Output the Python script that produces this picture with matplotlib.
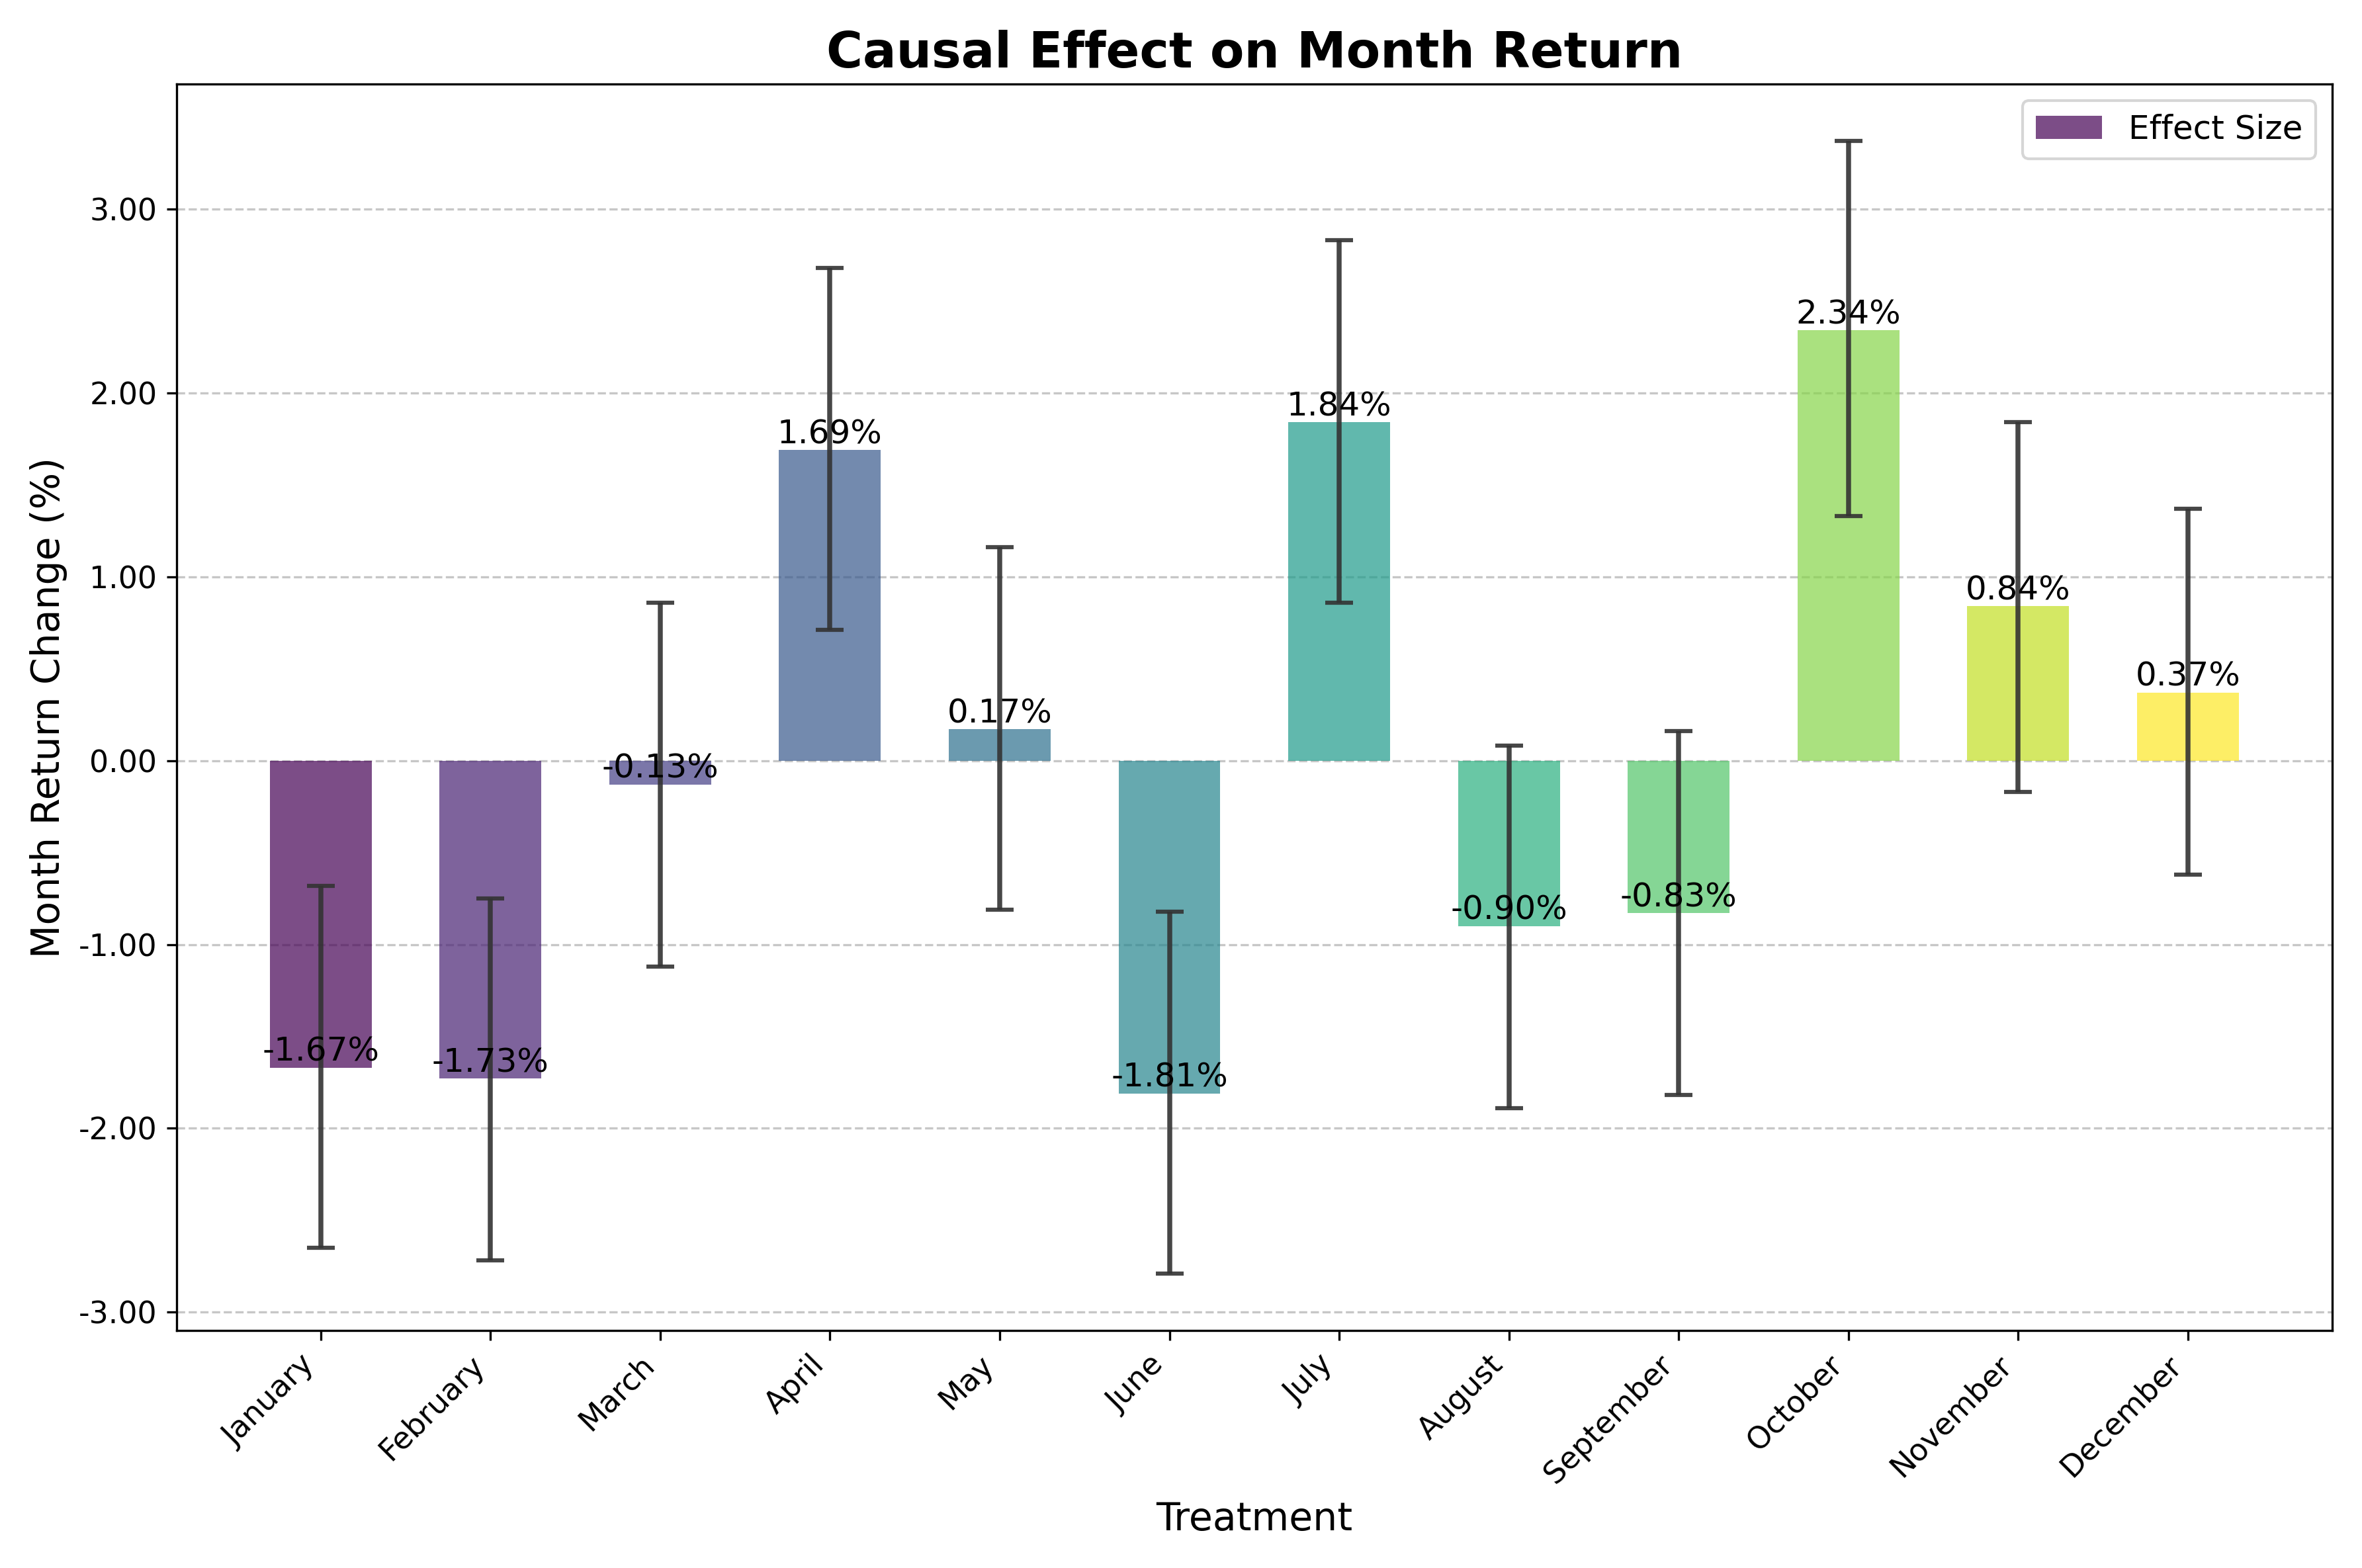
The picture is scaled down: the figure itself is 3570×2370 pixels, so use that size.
import matplotlib
matplotlib.use("Agg")
import matplotlib.pyplot as plt
import numpy as np
from matplotlib.ticker import FormatStrFormatter

months = ["January","February","March","April","May","June","July","August",
          "September","October","November","December"]
effects = [-1.67,-1.73,-0.13,1.69,0.17,-1.81,1.84,-0.90,-0.83,2.34,0.84,0.37]
ci_low = [-2.65,-2.72,-1.12,0.71,-0.81,-2.79,0.86,-1.89,-1.82,1.33,-0.17,-0.62]
ci_high = [-0.68,-0.75,0.86,2.68,1.16,-0.82,2.83,0.08,0.16,3.37,1.84,1.37]

fig, ax = plt.subplots(figsize=(11.9, 7.9), dpi=300)
x = np.arange(len(months))
colors = plt.cm.viridis(np.linspace(0, 1, len(months)))
yerr = [np.array(effects) - np.array(ci_low), np.array(ci_high) - np.array(effects)]
ax.bar(x, effects, width=0.6, color=colors, alpha=0.7, label="Effect Size",
       yerr=yerr, capsize=5, error_kw=dict(ecolor=(0.2,0.2,0.2,0.9), elinewidth=1.8, capthick=1.5))
for xi, v in zip(x, effects):
    ax.text(xi, v, f"{v:.2f}%", ha="center", va="bottom", fontsize=12)
ax.set_xticks(x)
ax.set_xticklabels(months, rotation=45, ha="right", fontsize=11)
ax.tick_params(axis="y", labelsize=11)
ax.yaxis.set_major_formatter(FormatStrFormatter("%.2f"))
ax.set_ylim(-3.1, 3.68)
ax.set_xlim(-0.85, 11.85)
ax.grid(axis="y", linestyle="--", alpha=0.7)
ax.set_axisbelow(True)
ax.set_xlabel("Treatment", fontsize=14)
ax.set_ylabel("Month Return Change (%)", fontsize=14)
ax.set_title("Causal Effect on Month Return", fontsize=18, fontweight="bold")
ax.legend(loc="upper right", fontsize=12)
fig.tight_layout()
fig.savefig("out.png", dpi=300)
